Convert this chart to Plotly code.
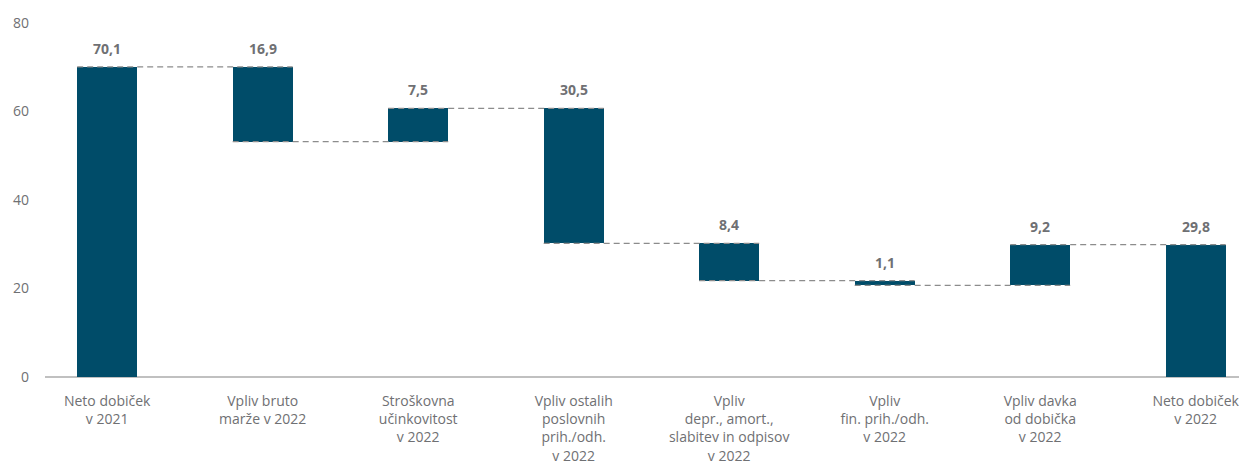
import plotly.graph_objects as go

categories = [
    "Neto dobiček<br>v 2021",
    "Vpliv bruto<br>marže v 2022",
    "Stroškovna<br>učinkovitost<br>v 2022",
    "Vpliv ostalih<br>poslovnih<br>prih./odh.<br>v 2022",
    "Vpliv<br>depr., amort.,<br>slabitev in odpisov<br>v 2022",
    "Vpliv<br>fin. prih./odh.<br>v 2022",
    "Vpliv davka<br>od dobička<br>v 2022",
    "Neto dobiček<br>v 2022",
]
start_value = 70.1
changes = [-16.9, 7.5, -30.5, -8.4, -1.1, 9.2]
end_value = 29.8
y_ticks = [0, 20, 40, 60, 80]

BAR = "#004c69"
TXT = "#6f7073"
FONT = "Open Sans"
W = 0.386

bases, heights, tops, levels = [], [], [], []
bases.append(0); heights.append(start_value); tops.append(start_value)
levels.append(start_value)
cur = start_value
for c in changes:
    nxt = cur + c
    bases.append(min(cur, nxt)); heights.append(abs(c)); tops.append(max(cur, nxt))
    cur = nxt
    levels.append(cur)
bases.append(0); heights.append(end_value); tops.append(end_value)
labels_vals = [start_value] + [abs(c) for c in changes] + [end_value]

xs = list(range(len(categories)))
fig = go.Figure()
fig.add_trace(go.Bar(x=xs, y=heights, base=bases, width=W, marker=dict(color=BAR, line=dict(width=0)),
                     hoverinfo="skip", showlegend=False))

for i, lv in enumerate(levels):
    fig.add_shape(type="line", xref="x", yref="y", x0=i - W / 2, x1=i + 1 + W / 2, y0=lv, y1=lv,
                  line=dict(color="#8c8c8c", width=1.2, dash="6px,4px"), layer="above")

for i, (t, v) in enumerate(zip(tops, labels_vals)):
    fig.add_annotation(x=i, y=t, text="<b>" + f"{v:.1f}".replace(".", ",") + "</b>", showarrow=False,
                       yanchor="bottom", yshift=7, font=dict(size=14, color=TXT, family=FONT))

fig.update_layout(
    width=1239, height=455,
    margin=dict(l=37, r=0, t=15, b=86),
    plot_bgcolor="white", paper_bgcolor="white",
    font=dict(family=FONT, size=14, color=TXT),
    xaxis=dict(range=[-0.4, 7.33], tickmode="array", tickvals=xs, ticktext=categories,
               showgrid=False, zeroline=False, showline=False, ticks="", tickangle=0,
               ticklabelstandoff=14, automargin=False,
               tickfont=dict(size=14, color=TXT, family=FONT)),
    yaxis=dict(range=[0, 80], tickvals=y_ticks, showgrid=False, zeroline=True, zerolinecolor="#c0c0c0",
               zerolinewidth=2, showline=False, ticks="", ticklabelstandoff=15, automargin=False,
               tickfont=dict(size=14, color=TXT, family=FONT)),
    bargap=0,
)
fig.write_html("out.html")
